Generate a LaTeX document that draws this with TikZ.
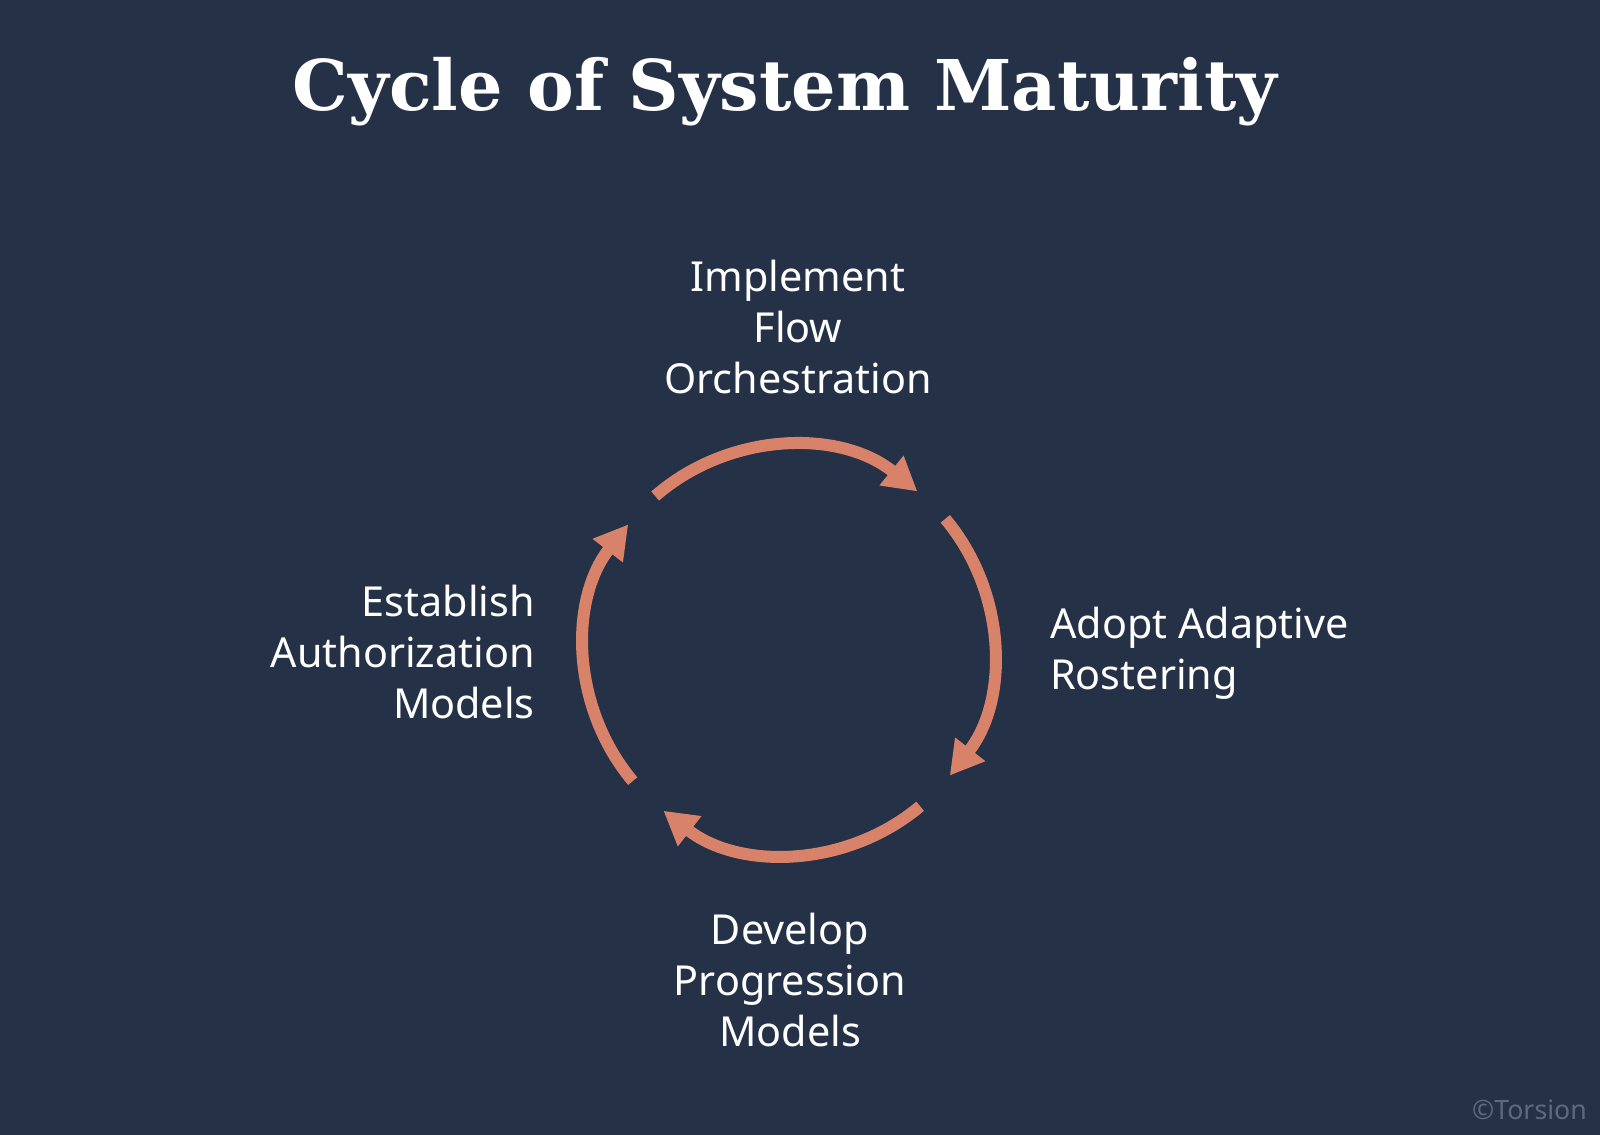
\documentclass[tikz,border=0pt]{standalone}
\usepackage{fontspec}
\setmainfont{Noto Sans}
\newfontfamily\titlefont{DejaVu Serif}
\usetikzlibrary{arrows.meta,calc}
\definecolor{bg}{HTML}{243147}
\definecolor{arc}{HTML}{D9826A}
\definecolor{wm}{HTML}{5E6A7C}
\tikzset{
  cyc/.style={draw=arc, line width=9pt, -{Triangle[length=25pt,width=27pt]}},
  lbl/.style={text=white, font=\fontsize{31}{38}\selectfont, inner sep=0pt}
}
\begin{document}
\begin{tikzpicture}[x=0.75pt,y=0.75pt]
\fill[bg] (0,0) rectangle (1600,1135);
\useasboundingbox (0,0) rectangle (1600,1135);
\coordinate (c) at (789,485);
\node[text=white, font=\titlefont\bfseries\fontsize{52.5}{58}\selectfont] (title) at (785,1043) {Cycle of System Maturity};
\draw[cyc] ($(c)+(131:204)$) arc (131:51:204);
\draw[cyc] ($(c)+(40:204)$) arc (40:-38:204);
\draw[cyc] ($(c)+(-50:204)$) arc (-50:-128:204);
\draw[cyc] ($(c)+(-140:204)$) arc (-140:-218:204);
\node[lbl, align=center] (top) at (798,808) {Implement\\Flow\\Orchestration};
\node[lbl, align=left, anchor=west] (right) at (1050,482) {Adopt Adaptive\\Rostering};
\node[lbl, align=center] (bottom) at (790,155) {Develop\\Progression\\Models};
\node[lbl, align=right, anchor=east] (left) at (535,483) {Establish\\Authorization\\Models};
\node[text=wm, font=\fontsize{20}{24}\selectfont, anchor=east, inner sep=0pt] (wm) at (1587,25) {©Torsion};
\end{tikzpicture}
\end{document}
